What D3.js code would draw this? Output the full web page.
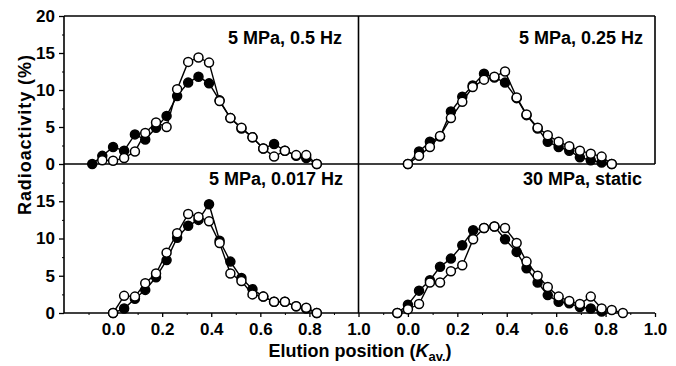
<!DOCTYPE html>
<html>
<head>
<meta charset="utf-8">
<script src="https://cdn.jsdelivr.net/npm/d3@7"></script>
<style>
  body { margin: 0; background: #fff; }
  text { font-family: "Liberation Sans", Arial, Helvetica, sans-serif; font-weight: bold; fill: #000; }
</style>
</head>
<body>
<script>
// panel titles
const titles = ['5 MPa, 0.5 Hz', '5 MPa, 0.25 Hz', '5 MPa, 0.017 Hz', '30 MPa, static'];

// x ticks and y ticks
const xTicks      = [0, 0.2, 0.4, 0.6, 0.8, 1.0];
const xMinorTicks = [-0.1, 0.1, 0.3, 0.5, 0.7, 0.9];
const yTicksTop   = [0, 5, 10, 15, 20];
const yTicksBot   = [0, 5, 10, 15];
const yMinorTicks = [2.5, 7.5, 12.5, 17.5];

// series: [Kav, radioactivity %]
const filled05 = [
  [-0.085, 0], [-0.044, 1.1], [0.0, 2.3], [0.045, 1.8], [0.089, 4.0], [0.131, 3.3], [0.175, 4.9],
  [0.218, 6.5], [0.261, 9.2], [0.306, 11.0], [0.348, 11.8], [0.391, 10.9], [0.434, 8.6], [0.478, 6.2],
  [0.523, 4.8], [0.568, 3.6], [0.612, 2.1], [0.656, 2.7], [0.70, 1.8], [0.746, 1.1], [0.787, 0.8], [0.83, 0]
];
const open05 = [
  [-0.044, 0.5], [0.0, 0.45], [0.045, 0.8], [0.089, 1.7], [0.131, 4.2], [0.175, 5.6], [0.218, 5.0],
  [0.261, 10.1], [0.306, 13.8], [0.348, 14.4], [0.391, 13.7], [0.434, 8.5], [0.478, 6.2], [0.523, 4.9],
  [0.568, 3.6], [0.612, 2.1], [0.656, 1.0], [0.70, 1.8], [0.746, 1.2], [0.787, 1.2], [0.83, 0]
];

const filled025 = [
  [0.0, 0], [0.045, 1.7], [0.089, 3.0], [0.13, 3.7], [0.174, 7.1], [0.22, 9.1], [0.262, 10.6],
  [0.308, 12.2], [0.35, 11.7], [0.393, 11.0], [0.44, 8.9], [0.48, 6.6], [0.525, 4.8], [0.566, 3.0],
  [0.61, 2.3], [0.653, 1.8], [0.696, 0.9], [0.74, 0.5], [0.784, 0.2], [0.825, 0]
];
const open025 = [
  [0.0, 0], [0.045, 1.1], [0.089, 2.3], [0.13, 3.8], [0.174, 6.2], [0.22, 8.4], [0.262, 10.4],
  [0.308, 11.4], [0.35, 11.8], [0.393, 12.5], [0.44, 9.0], [0.48, 6.7], [0.525, 4.9], [0.566, 3.9],
  [0.61, 3.0], [0.653, 2.4], [0.696, 1.8], [0.74, 1.4], [0.784, 1.0], [0.825, 0]
];

const filled0017 = [
  [0.0, 0], [0.045, 0.6], [0.089, 1.9], [0.131, 3.1], [0.175, 4.8], [0.218, 7.1], [0.261, 10.1],
  [0.306, 11.7], [0.348, 12.5], [0.391, 14.6], [0.434, 9.7], [0.478, 6.9], [0.523, 4.7], [0.568, 3.2],
  [0.612, 2.2], [0.656, 1.5], [0.70, 1.5], [0.746, 0.9], [0.787, 0.6], [0.83, 0]
];
const open0017 = [
  [0.0, 0], [0.045, 2.3], [0.089, 2.2], [0.131, 4.0], [0.175, 5.3], [0.218, 8.1], [0.261, 10.7],
  [0.306, 13.3], [0.348, 12.9], [0.391, 12.3], [0.434, 9.4], [0.478, 5.3], [0.523, 4.3], [0.568, 2.5],
  [0.612, 2.2], [0.656, 1.5], [0.70, 1.5], [0.746, 0.9], [0.787, 0.7], [0.83, 0]
];

const filledStatic = [
  [-0.043, 0], [0.0, 1.1], [0.045, 3.0], [0.089, 4.4], [0.13, 6.2], [0.174, 7.3], [0.22, 9.1],
  [0.264, 11.1], [0.308, 11.4], [0.35, 11.6], [0.393, 9.9], [0.44, 8.2], [0.48, 6.0], [0.525, 4.1],
  [0.566, 2.4], [0.61, 1.5], [0.653, 1.3], [0.696, 0.8], [0.74, 0.6], [0.784, 0.2]
];
const openStatic = [
  [-0.043, 0], [0.0, 0.5], [0.045, 1.2], [0.089, 4.1], [0.13, 4.1], [0.174, 5.6], [0.22, 6.4],
  [0.264, 9.9], [0.308, 11.4], [0.35, 11.6], [0.393, 11.4], [0.44, 9.4], [0.48, 6.9], [0.525, 5.0],
  [0.566, 3.5], [0.61, 2.2], [0.653, 1.6], [0.696, 1.2], [0.74, 2.2], [0.784, 0.6], [0.825, 0.4], [0.87, 0]
];

const width  = 676;
const height = 366;

// frame edges
const edgeL = 64, edgeM = 358.5, edgeR = 655;
const edgeT = 16, edgeMY = 164, edgeB = 313;

const svg = d3.select('body')
  .append('svg')
    .attr('width',  width)
    .attr('height', height);

// scales
const xL = d3.scaleLinear([-0.2, 1.0], [edgeL, edgeM]);
const xR = d3.scaleLinear([-0.2, 1.0], [edgeM, edgeR]);
const yT = d3.scaleLinear([0, 20], [edgeMY, edgeT]);
const yB = d3.scaleLinear([0, 20], [edgeB, edgeMY]);

const panels = [
  { x: xL, y: yT, filled: filled05,     open: open05,     title: titles[0], tx: 342, ty: 44 },
  { x: xR, y: yT, filled: filled025,    open: open025,    title: titles[1], tx: 643, ty: 44 },
  { x: xL, y: yB, filled: filled0017,   open: open0017,   title: titles[2], tx: 343, ty: 185 },
  { x: xR, y: yB, filled: filledStatic, open: openStatic, title: titles[3], tx: 642, ty: 185 }
];

// frame lines
const frame = [
  [[edgeL, edgeT], [edgeR, edgeT]],
  [[edgeL, edgeMY], [edgeR, edgeMY]],
  [[edgeL, edgeB], [edgeR, edgeB]],
  [[edgeL, edgeT], [edgeL, edgeB]],
  [[edgeM, edgeT], [edgeM, edgeB]],
  [[edgeR, edgeT], [edgeR, edgeMY]]
];
svg.append('g')
  .selectAll('path')
  .data(frame)
  .join('path')
    .attr('d', d3.line())
    .attr('stroke', '#000')
    .attr('stroke-width', 1.6)
    .attr('fill', 'none');

// x axes (bottom row)
[xL, xR].forEach((x) => {
  const g = svg.append('g')
    .attr('transform', `translate(0,${edgeB})`)
    .call(d3.axisBottom(x).tickValues(xTicks).tickSize(4).tickPadding(6).tickFormat(d3.format('.1f')));
  g.select('.domain').remove();
  g.selectAll('text').attr('font-size', 17).attr('font-family', null);
  g.selectAll('line').attr('stroke-width', 1.3);

  const m = svg.append('g')
    .attr('transform', `translate(0,${edgeB})`)
    .call(d3.axisBottom(x).tickValues(xMinorTicks).tickSize(2).tickFormat(''));
  m.select('.domain').remove();
});

// y axes (left column)
[[yT, yTicksTop], [yB, yTicksBot]].forEach(([y, ticks]) => {
  const g = svg.append('g')
    .attr('transform', `translate(${edgeL},0)`)
    .call(d3.axisLeft(y).tickValues(ticks).tickSize(5).tickPadding(4));
  g.select('.domain').remove();
  g.selectAll('text').attr('font-size', 17).attr('font-family', null);
  g.selectAll('line').attr('stroke-width', 1.3);

  const m = svg.append('g')
    .attr('transform', `translate(${edgeL},0)`)
    .call(d3.axisLeft(y).tickValues(yMinorTicks).tickSize(2).tickFormat(''));
  m.select('.domain').remove();
});

// draw series
panels.forEach((p) => {
  const line = d3.line().x((d) => p.x(d[0])).y((d) => p.y(d[1]));
  const g = svg.append('g');

  [[p.filled, '#000'], [p.open, '#fff']].forEach(([data, fill]) => {
    g.append('path')
      .attr('d', line(data))
      .attr('fill', 'none')
      .attr('stroke', '#000')
      .attr('stroke-width', 1.4);

    g.append('g')
      .selectAll('circle')
      .data(data)
      .join('circle')
        .attr('cx', (d) => p.x(d[0]))
        .attr('cy', (d) => p.y(d[1]))
        .attr('r', 4.5)
        .attr('fill', fill)
        .attr('stroke', '#000')
        .attr('stroke-width', 1.5);
  });

  svg.append('text')
    .attr('x', p.tx)
    .attr('y', p.ty)
    .attr('text-anchor', 'end')
    .attr('font-size', 18)
    .text(p.title);
});

// axis titles
svg.append('text')
  .attr('transform', 'translate(31,135) rotate(-90)')
  .attr('text-anchor', 'middle')
  .attr('font-size', 18)
  .attr('textLength', 160)
  .text('Radioactivity (%)');

const xt = svg.append('text')
  .attr('x', 360)
  .attr('y', 357)
  .attr('text-anchor', 'middle')
  .attr('font-size', 18);
xt.append('tspan').text('Elution position (');
xt.append('tspan').attr('font-style', 'italic').text('K');
xt.append('tspan').attr('font-size', 13).attr('dy', 4).text('av.');
xt.append('tspan').attr('dy', -4).text(')');
</script>
</body>
</html>
